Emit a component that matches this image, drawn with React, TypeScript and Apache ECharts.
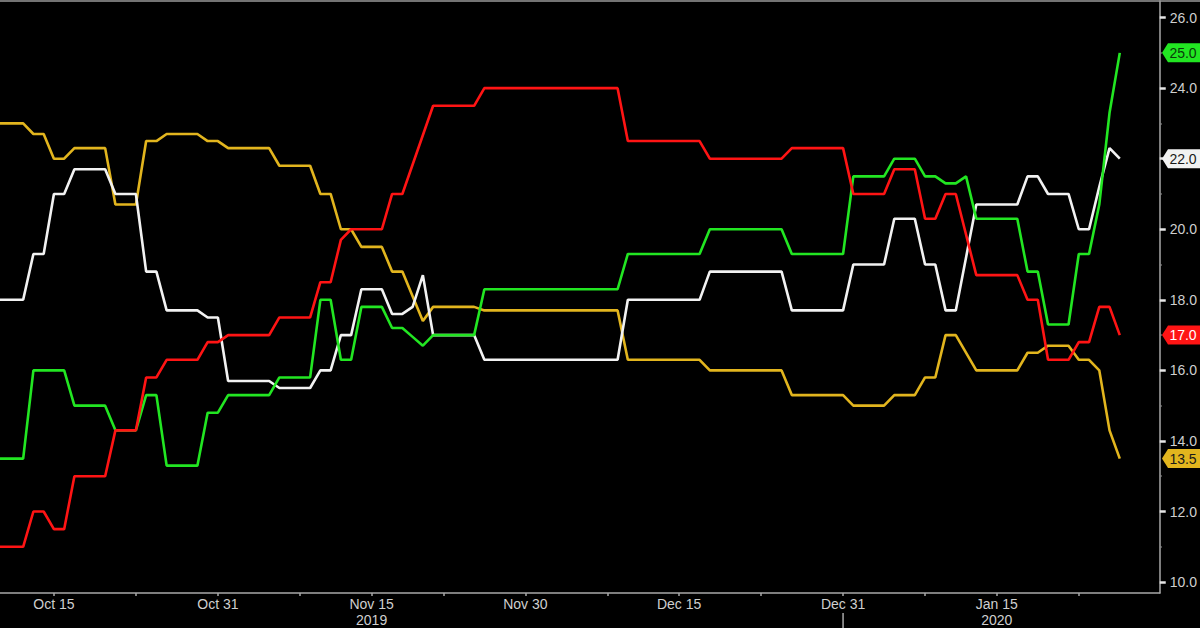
import React, { useEffect, useRef } from "react";
import * as echarts from "echarts";

// x values are calendar days counted from Oct 15, 2019 (day 0)
const monthTickDays = [0, 16, 31, 46, 61, 77, 92];
const monthTickLabels = ["Oct 15", "Oct 31", "Nov 15\n2019", "Nov 30", "Dec 15", "Dec 31", "Jan 15\n2020"];
const minorTickDays = [8, 24, 38, 54, 69, 85, 100];
const yearSeparatorDay = 77;

const yLabelValues = [10, 12, 14, 16, 18, 20, 22, 24, 26];
const yMinorValues = [11, 13, 15, 17, 19, 21, 23, 25];

const redSeries: [number, number][] = [
  [-6, 11.0], [-3, 11.0], [-2, 12.0], [-1, 12.0], [0, 11.5], [1, 11.5], [2, 13.0], [5, 13.0],
  [6, 14.3], [8, 14.3], [9, 15.8], [10, 15.8], [11, 16.3], [14, 16.3], [15, 16.8], [16, 16.8],
  [17, 17.0], [21, 17.0], [22, 17.5], [25, 17.5], [26, 18.5], [27, 18.5], [28, 19.7], [29, 20.0],
  [32, 20.0], [33, 21.0], [34, 21.0], [37, 23.5], [41, 23.5], [42, 24.0], [55, 24.0], [56, 22.5],
  [63, 22.5], [64, 22.0], [71, 22.0], [72, 22.3], [77, 22.3], [78, 21.0], [81, 21.0], [82, 21.7],
  [84, 21.7], [85, 20.3], [86, 20.3], [87, 21.0], [88, 21.0], [90, 18.7], [94, 18.7], [95, 18.0],
  [96, 18.0], [97, 16.3], [99, 16.3], [100, 16.8], [101, 16.8], [102, 17.8], [103, 17.8], [104, 17.0],
];

const greenSeries: [number, number][] = [
  [-6, 13.5], [-3, 13.5], [-2, 16.0], [1, 16.0], [2, 15.0], [5, 15.0], [6, 14.3], [8, 14.3],
  [9, 15.3], [10, 15.3], [11, 13.3], [14, 13.3], [15, 14.8], [16, 14.8], [17, 15.3], [21, 15.3],
  [22, 15.8], [25, 15.8], [26, 18.0], [27, 18.0], [28, 16.3], [29, 16.3], [30, 17.8], [32, 17.8],
  [33, 17.2], [34, 17.2], [35, 16.95], [36, 16.7], [37, 17.0], [41, 17.0], [42, 18.3], [55, 18.3],
  [56, 19.3], [63, 19.3], [64, 20.0], [71, 20.0], [72, 19.3], [77, 19.3], [78, 21.5], [81, 21.5],
  [82, 22.0], [84, 22.0], [85, 21.5], [86, 21.5], [87, 21.3], [88, 21.3], [89, 21.5], [90, 20.3],
  [94, 20.3], [95, 18.8], [96, 18.8], [97, 17.3], [99, 17.3], [100, 19.3], [101, 19.3], [102, 20.7],
  [103, 23.3], [104, 25.0],
];

const whiteSeries: [number, number][] = [
  [-6, 18.0], [-3, 18.0], [-2, 19.3], [-1, 19.3], [0, 21.0], [1, 21.0], [2, 21.7], [5, 21.7],
  [6, 21.0], [8, 21.0], [9, 18.8], [10, 18.8], [11, 17.7], [14, 17.7], [15, 17.5], [16, 17.5],
  [17, 15.7], [21, 15.7], [22, 15.5], [25, 15.5], [26, 16.0], [27, 16.0], [28, 17.0], [29, 17.0],
  [30, 18.3], [32, 18.3], [33, 17.6], [34, 17.6], [35, 17.8], [36, 18.7], [37, 17.0], [41, 17.0],
  [42, 16.3], [55, 16.3], [56, 18.0], [63, 18.0], [64, 18.8], [71, 18.8], [72, 17.7], [77, 17.7],
  [78, 19.0], [81, 19.0], [82, 20.3], [84, 20.3], [85, 19.0], [86, 19.0], [87, 17.7], [88, 17.7],
  [90, 20.7], [94, 20.7], [95, 21.5], [96, 21.5], [97, 21.0], [99, 21.0], [100, 20.0], [101, 20.0],
  [102, 21.2], [103, 22.3], [104, 22.0],
];

const yellowSeries: [number, number][] = [
  [-6, 23.0], [-3, 23.0], [-2, 22.7], [-1, 22.7], [0, 22.0], [1, 22.0], [2, 22.3], [5, 22.3],
  [6, 20.7], [8, 20.7], [9, 22.5], [10, 22.5], [11, 22.7], [14, 22.7], [15, 22.5], [16, 22.5],
  [17, 22.3], [21, 22.3], [22, 21.8], [25, 21.8], [26, 21.0], [27, 21.0], [28, 20.0], [29, 20.0],
  [30, 19.5], [32, 19.5], [33, 18.8], [34, 18.8], [36, 17.4], [37, 17.8], [41, 17.8], [42, 17.7],
  [55, 17.7], [56, 16.3], [63, 16.3], [64, 16.0], [71, 16.0], [72, 15.3], [77, 15.3], [78, 15.0],
  [81, 15.0], [82, 15.3], [84, 15.3], [85, 15.8], [86, 15.8], [87, 17.0], [88, 17.0], [90, 16.0],
  [94, 16.0], [95, 16.5], [96, 16.5], [97, 16.7], [99, 16.7], [100, 16.3], [101, 16.3], [102, 16.0],
  [103, 14.3], [104, 13.5],
];

const seriesDefs = [
  { name: "Yellow", data: yellowSeries, color: "#e2b51e", tagText: "#1a1a1a" },
  { name: "White", data: whiteSeries, color: "#f2f2f2", tagText: "#1a1a1a" },
  { name: "Green", data: greenSeries, color: "#22e622", tagText: "#0a3a0a" },
  { name: "Red", data: redSeries, color: "#ff1414", tagText: "#ffffff" },
];

const X_MIN = -5.26;
const X_MAX = 107.9;
const Y_MIN = 9.69;
const Y_MAX = 26.47;
const AXIS_GRAY = "#a8a8a8";
const LABEL_GRAY = "#cfcfcf";
const FONT = "Liberation Sans, Arial, sans-serif";

export default function App() {
  const ref = useRef<HTMLDivElement>(null);

  useEffect(() => {
    if (!ref.current) return;
    const chart = echarts.init(ref.current, null, { renderer: "svg" });
    const grid = { left: 0, right: 39, top: 1, bottom: 33 };
    chart.setOption({
      animation: false,
      backgroundColor: "#000000",
      grid: { ...grid, containLabel: false },
      xAxis: {
        type: "value",
        min: X_MIN,
        max: X_MAX,
        splitLine: { show: false },
        axisLine: { show: true, onZero: false, lineStyle: { color: AXIS_GRAY, width: 1.5 } },
        axisTick: {
          show: true,
          customValues: [...monthTickDays, ...minorTickDays].sort((a, b) => a - b),
          length: 3,
          lineStyle: { color: AXIS_GRAY, width: 1.5 },
        },
        axisLabel: {
          show: true,
          customValues: monthTickDays,
          formatter: (v: number) => {
            const i = monthTickDays.indexOf(Math.round(v));
            return i >= 0 ? monthTickLabels[i] : "";
          },
          color: LABEL_GRAY,
          fontSize: 14,
          fontFamily: FONT,
          lineHeight: 16,
          margin: 3,
          showMinLabel: true,
          showMaxLabel: true,
        },
      },
      yAxis: [
        {
          type: "value",
          position: "right",
          min: Y_MIN,
          max: Y_MAX,
          splitLine: { show: false },
          axisLine: { show: true, onZero: false, lineStyle: { color: AXIS_GRAY, width: 1.5 } },
          axisTick: {
            show: true,
            customValues: yLabelValues,
            length: 6,
            lineStyle: { color: "#e6e6e6", width: 2.5 },
          },
          axisLabel: {
            customValues: yLabelValues,
            formatter: (v: number) => v.toFixed(1),
            color: LABEL_GRAY,
            fontSize: 14,
            fontFamily: FONT,
            margin: 10,
          },
        },
        {
          type: "value",
          position: "right",
          min: Y_MIN,
          max: Y_MAX,
          splitLine: { show: false },
          axisLine: { show: false, onZero: false },
          axisTick: {
            show: true,
            customValues: yMinorValues,
            length: 2,
            lineStyle: { color: "#888888", width: 1.5 },
          },
          axisLabel: { show: false },
        },
      ],
      series: seriesDefs.map((s) => ({
        name: s.name,
        type: "line",
        data: s.data,
        showSymbol: false,
        symbol: "none",
        clip: true,
        lineStyle: { color: s.color, width: 2.6 },
        itemStyle: { color: s.color },
      })),
    });

    const graphics: any[] = [];
    graphics.push({
      type: "line",
      shape: { x1: 0, y1: 1, x2: 1200, y2: 1 },
      style: { stroke: "#9a9a9a", lineWidth: 1.5 },
      z: 100,
    });
    const sepX = chart.convertToPixel({ xAxisIndex: 0 }, yearSeparatorDay) as number;
    graphics.push({
      type: "line",
      shape: { x1: sepX, y1: 613, x2: sepX, y2: 628 },
      style: { stroke: AXIS_GRAY, lineWidth: 1.5 },
      z: 100,
    });
    const axisX = 1161;
    seriesDefs.forEach((s) => {
      const last = s.data[s.data.length - 1][1];
      const y = chart.convertToPixel({ yAxisIndex: 0 }, last) as number;
      graphics.push({
        type: "polygon",
        shape: {
          points: [
            [axisX + 1, y],
            [axisX + 7, y - 9.5],
            [1200, y - 9.5],
            [1200, y + 9.5],
            [axisX + 7, y + 9.5],
          ],
        },
        style: { fill: s.color },
        z: 110,
      });
      graphics.push({
        type: "text",
        x: 1183,
        y: y,
        style: {
          text: last.toFixed(1),
          fill: s.tagText,
          font: `14px ${FONT}`,
          align: "center",
          verticalAlign: "middle",
        },
        z: 111,
      });
    });
    chart.setOption({ graphic: graphics });

    return () => chart.dispose();
  }, []);

  return (
    <div
      ref={ref}
      style={{ position: "absolute", left: 0, top: 0, width: 1200, height: 628, background: "#000" }}
    />
  );
}
